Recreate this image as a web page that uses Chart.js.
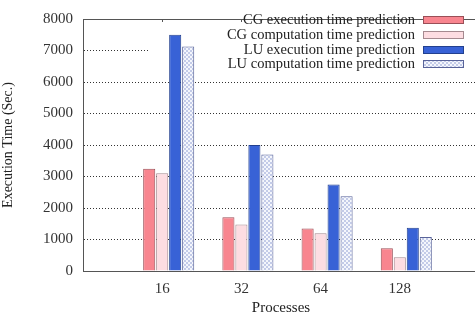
<!DOCTYPE html>
<html>
<head>
<meta charset="utf-8">
<script src="https://cdn.jsdelivr.net/npm/chart.js@4.4.1/dist/chart.umd.min.js"></script>
<style>
  html, body { margin: 0; padding: 0; background: #fff; overflow: hidden; }
  #wrap { width: 480px; height: 320px; }
</style>
</head>
<body>
<div id="wrap"><canvas id="chart" width="480" height="320"></canvas></div>
<script>
// data
var processes = ['', '16', '32', '64', '128', ''];
var cgExec = [null, 3250, 1710, 1350, 725, null];
var cgComp = [null, 3100, 1475, 1200, 440, null];
var luExec = [null, 7500, 4000, 2750, 1375, null];
var luComp = [null, 7130, 3700, 2370, 1080, null];
var spacer = [null, null, null, null, null, null];
var yTicks = [0, 1000, 2000, 3000, 4000, 5000, 6000, 7000, 8000];

var serif = '"Liberation Serif", "Times New Roman", serif';

// checkered fill for the LU computation bars
function checker() {
    var c = document.createElement('canvas');
    c.width = 4; c.height = 4;
    var g = c.getContext('2d');
    g.fillStyle = '#f4f6fc';
    g.fillRect(0, 0, 4, 4);
    g.fillStyle = '#c3cbe8';
    g.fillRect(0, 0, 2, 2);
    g.fillRect(2, 2, 2, 2);
    return g.createPattern(c, 'repeat');
}
var luPattern = checker();

// white key box behind the bars, frame top line, and the key itself
var keyPlugin = {
    id: 'key',
    beforeDatasetsDraw: function(chart) {
        var ctx = chart.ctx, a = chart.chartArea, y = chart.scales.y;
        ctx.save();
        ctx.fillStyle = '#fff';
        ctx.fillRect(148, a.top + 1, a.right - 148, y.getPixelForValue(6000) - a.top - 3);
        ctx.restore();
    },
    afterDraw: function(chart) {
        var ctx = chart.ctx, a = chart.chartArea;
        ctx.save();
        ctx.strokeStyle = '#555';
        ctx.lineWidth = 1;
        ctx.beginPath();
        ctx.moveTo(a.left, a.top + 0.5);
        ctx.lineTo(a.right, a.top + 0.5);
        ctx.stroke();
        // small tick marks at the top
        ctx.beginPath();
        var x = chart.scales.x;
        for (var i = 1; i < processes.length - 1; i++) {
            var px = Math.round(x.getPixelForValue(i)) + 0.5;
            ctx.moveTo(px, a.top);
            ctx.lineTo(px, a.top + 3);
        }
        ctx.stroke();

        ctx.font = '14.5px ' + serif;
        ctx.textAlign = 'right';
        ctx.textBaseline = 'middle';
        var rows = [20, 35, 50, 64];
        var sets = chart.data.datasets.slice(1);
        sets.forEach(function(ds, k) {
            ctx.fillStyle = '#222';
            ctx.fillText(ds.label, 415, rows[k]);
            ctx.fillStyle = ds.backgroundColor;
            ctx.fillRect(423.5, rows[k] - 3.5, 40, 7);
            ctx.strokeStyle = ds.borderColor;
            ctx.strokeRect(423.5, rows[k] - 3.5, 40, 7);
        });
        ctx.restore();
    }
};

new Chart(document.getElementById('chart'), {
    type: 'bar',
    data: {
        labels: processes,
        datasets: [
            { label: '', data: spacer },
            { label: 'CG execution time prediction', data: cgExec,
              backgroundColor: '#f8858f', borderColor: '#9a4f57' },
            { label: 'CG computation time prediction', data: cgComp,
              backgroundColor: '#fddde2', borderColor: '#a58a90' },
            { label: 'LU execution time prediction', data: luExec,
              backgroundColor: '#3862d6', borderColor: '#22408f' },
            { label: 'LU computation time prediction', data: luComp,
              backgroundColor: luPattern, borderColor: '#59649a' }
        ]
    },
    options: {
        responsive: false,
        animation: false,
        layout: { padding: { top: 9, right: 1, left: 0, bottom: 3 } },
        datasets: {
            bar: { categoryPercentage: 0.82, barPercentage: 0.93, borderWidth: 1, borderSkipped: 'bottom' }
        },
        plugins: {
            legend: { display: false },
            tooltip: { enabled: false }
        },
        scales: {
            x: {
                offset: false,
                grid: { display: false },
                border: { display: true, color: '#555', width: 1 },
                ticks: { color: '#333', font: { family: serif, size: 15 }, padding: 1, autoSkip: false, maxRotation: 0 },
                title: { display: true, text: 'Processes', color: '#222', font: { family: serif, size: 15 }, padding: { top: 0, bottom: 0 } },
                afterFit: function(s) { s.height = 46; }
            },
            y: {
                min: 0,
                max: 8000,
                afterBuildTicks: function(s) { s.ticks = yTicks.map(function(v) { return { value: v }; }); },
                grid: {
                    color: function(c) { return (c.tick.value === 0 || c.tick.value === 8000) ? 'rgba(0,0,0,0)' : '#333'; },
                    lineWidth: 1,
                    drawTicks: false
                },
                border: { display: true, color: '#555', width: 1, dash: [1, 2] },
                ticks: { color: '#333', font: { family: serif, size: 15 }, padding: 10,
                         callback: function(v) { return String(v); } },
                title: { display: true, text: 'Execution Time (Sec.)', color: '#222', font: { family: serif, size: 14 }, padding: { top: 0, bottom: 6 } },
                afterFit: function(s) { s.width = 83; }
            }
        }
    },
    plugins: [keyPlugin]
});
</script>
</body>
</html>
